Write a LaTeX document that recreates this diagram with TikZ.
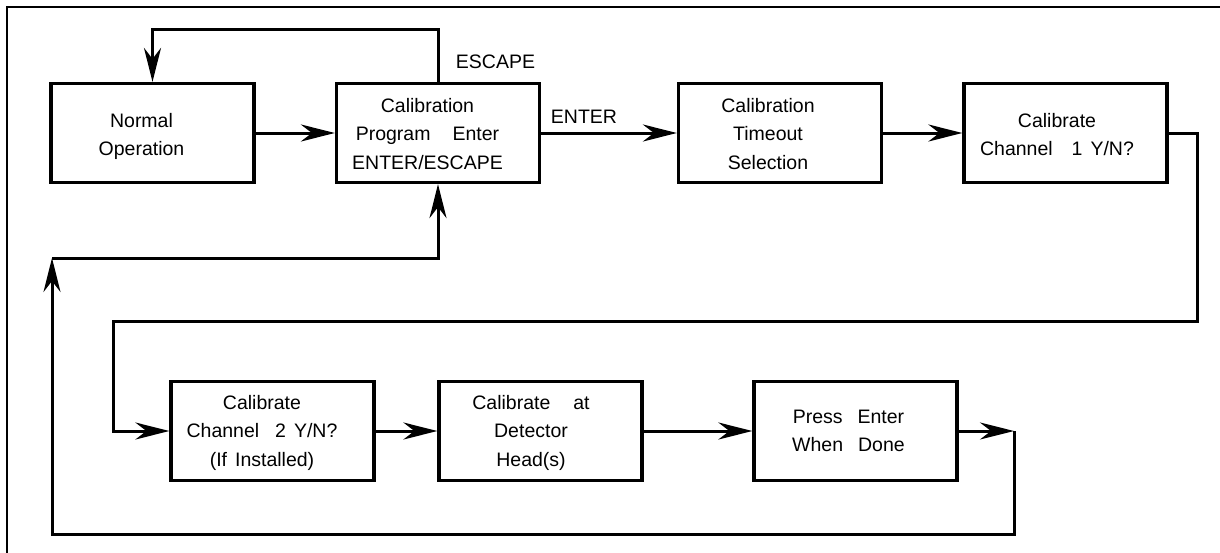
\documentclass[tikz,border=0pt]{standalone}
\usepackage{fontspec}
\setmainfont{Liberation Sans}
\usetikzlibrary{arrows.meta}

\tikzset{
  stepbox/.style={draw, line width=3.2pt, minimum width=203pt, minimum height=99pt, inner sep=0pt},
  lbl/.style={inner sep=0pt, align=center, font=\fontsize{19.5}{28.5}\selectfont},
  conn/.style={line width=3pt},
  arr/.style={conn, -{Stealth[length=34pt, width=17pt, inset=11pt]}},
  frame/.style={line width=2.4pt},
}

\begin{document}
\begin{tikzpicture}[x=1pt, y=-1pt]
  \useasboundingbox (0,0) rectangle (1220,552);
  \clip (0,0) rectangle (1220,552);
  \fill[white] (0,0) rectangle (1220,552);

  % outer frame (only its top and left sides fall on the page)
  \draw[frame] (7,560) -- (7,7) -- (1230,7);

  % first row
  \node[stepbox] (norm)    at (152.5,133) {};
  \node[stepbox] (calib)   at (438,133)   {};
  \node[stepbox] (timeout) at (780,133)   {};
  \node[stepbox] (ch1)     at (1065.5,133) {};

  % second row
  \node[stepbox] (ch2)   at (272.5,431) {};
  \node[stepbox] (det)   at (540.5,431) {};
  \node[stepbox] (press) at (855.5,431) {};

  % box texts
  \node[lbl] (norm-t)    at ([shift={(-11,3)}]norm.center)    {\strut Normal\\\strut Operation};
  \node[lbl] (calib-t)   at ([shift={(-10.5,2)}]calib.center) {\strut Calibration\\\strut Program\hspace{22pt}Enter\\\strut ENTER/ESCAPE};
  \node[lbl] (timeout-t) at ([shift={(-12,2)}]timeout.center) {\strut Calibration\\\strut Timeout\\\strut Selection};
  \node[lbl] (ch1-t)     at ([shift={(-8.5,3)}]ch1.center)    {\strut Calibrate\\\strut Channel\hspace{19pt}1\hspace{8pt}Y/N?};
  \node[lbl] (ch2-t)     at ([shift={(-10.5,1)}]ch2.center)   {\strut Calibrate\\\strut Channel\hspace{16pt}2\hspace{8pt}Y/N?\\\strut (If\hspace{8pt}Installed)};
  \node[lbl] (det-t)     at ([shift={(-9.5,1)}]det.center)    {\strut Calibrate\hspace{23pt}at\\\strut Detector\\\strut Head(s)};
  \node[lbl] (press-t)   at ([shift={(-7,1)}]press.center)    {\strut Press\hspace{15pt}Enter\\\strut When\hspace{15pt}Done};

  % connector labels
  \node[lbl] (esc-l) at (495.5,62) {ESCAPE};
  \node[lbl] (ent-l) at (584,117)  {ENTER};

  % corner points of the return paths
  \coordinate (k)  at (113,321);
  \coordinate (cR) at (1014,431);
  \coordinate (cL) at (52,258);

  % connectors
  \draw[arr] (calib.north) -- ++(0,-52) -| (norm.north);
  \draw[arr] (norm.east) -- (calib.west);
  \draw[arr] (calib.east) -- (timeout.west);
  \draw[arr] (timeout.east) -- (ch1.west);
  \draw[arr] (ch1.east) -- ++(29,0) |- (k) |- (ch2.west);
  \draw[arr] (ch2.east) -- (det.west);
  \draw[arr] (det.east) -- (press.west);
  \draw[arr] (press.east) -- (cR);
  \draw[arr] (cR) -- ++(0,103) -| (cL);
  \draw[arr] (cL) -| (calib.south);
\end{tikzpicture}
\end{document}
